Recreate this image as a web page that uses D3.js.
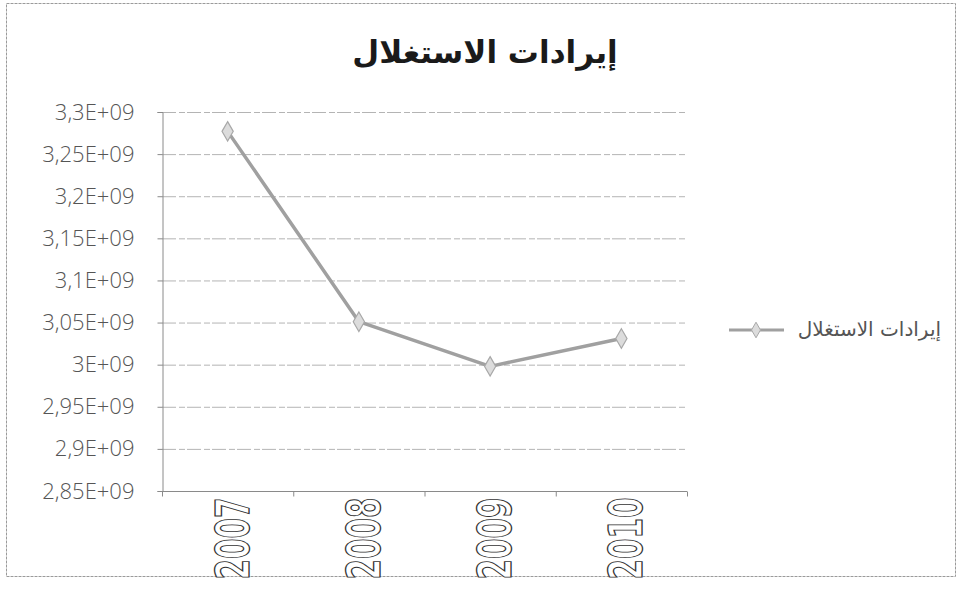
<!DOCTYPE html>
<html>
<head>
<meta charset="utf-8">
<script src="https://cdn.jsdelivr.net/npm/d3@7"></script>
<style>
  html, body { margin: 0; padding: 0; background: #fff; }
  svg { display: block; }
</style>
</head>
<body>
<svg id="chart" width="957" height="590"></svg>
<script>
// Operating revenues by year
const years = ["2007", "2008", "2009", "2010"];
const revenues = [3.277e9, 3.051e9, 2.998e9, 3.031e9];
const yTicks = [2.85e9, 2.9e9, 2.95e9, 3.0e9, 3.05e9, 3.1e9, 3.15e9, 3.2e9, 3.25e9, 3.3e9];
const yTickLabels = ["2,85E+09", "2,9E+09", "2,95E+09", "3E+09", "3,05E+09", "3,1E+09", "3,15E+09", "3,2E+09", "3,25E+09", "3,3E+09"];
const title = "إيرادات الاستغلال";
const seriesName = "إيرادات الاستغلال";

const svg = d3.select("#chart");
const W = 957, H = 590;
const plot = { left: 162, right: 687, top: 112, bottom: 491 };

// outer frame
svg.append("rect")
  .attr("x", 6.5).attr("y", 3.5).attr("width", W - 8).attr("height", 573)
  .attr("fill", "none").attr("stroke", "#9a9a9a").attr("stroke-width", 1)
  .attr("stroke-dasharray", "3,1");

const x = d3.scaleBand().domain(years).range([plot.left, plot.right]);
const y = d3.scaleLinear().domain([2.85e9, 3.3e9]).range([plot.bottom, plot.top]);

// gridlines
svg.append("g").selectAll("line").data(yTicks.slice(1)).join("line")
  .attr("x1", plot.left).attr("x2", plot.right)
  .attr("y1", d => y(d) + 0.5).attr("y2", d => y(d) + 0.5)
  .attr("stroke", "#b4b4b4").attr("stroke-width", 1)
  .attr("stroke-dasharray", "14,3,6,2");

// y axis
const yAxis = d3.axisLeft(y).tickValues(yTicks)
  .tickFormat((d, i) => yTickLabels[i]).tickSize(5).tickPadding(23);
const gy = svg.append("g").attr("transform", `translate(${plot.left + 0.5},0)`).call(yAxis);
gy.select(".domain").attr("stroke", "#8a8a8a");
gy.selectAll(".tick line").attr("stroke", "#8a8a8a");
gy.selectAll(".tick text")
  .attr("font-family", "'Open Sans', 'DejaVu Sans', sans-serif")
  .attr("font-size", 22).attr("font-weight", 300).attr("fill", "#555");

// x axis
const gx = svg.append("g").attr("transform", `translate(0,${plot.bottom + 0.5})`);
gx.append("line").attr("x1", plot.left).attr("x2", plot.right)
  .attr("stroke", "#8a8a8a");
const boundaries = years.map(d => x(d)).concat([x.range()[1]]);
gx.selectAll(".xt").data(boundaries).join("line").attr("class", "xt")
  .attr("x1", d => d + 0.5).attr("x2", d => d + 0.5).attr("y1", 0).attr("y2", 5)
  .attr("stroke", "#8a8a8a");
// outlined, rotated year labels
gx.selectAll("text").data(years).join("text")
  .attr("transform", d => `translate(${x(d) + x.bandwidth() / 2 + 21},${6}) rotate(-90)`)
  .attr("text-anchor", "end")
  .attr("font-family", "'DejaVu Sans', sans-serif")
  .attr("font-size", 46).attr("font-weight", "bold")
  .attr("textLength", 82).attr("lengthAdjust", "spacingAndGlyphs")
  .attr("fill", "#fff").attr("stroke", "#333").attr("stroke-width", 1.3)
  .text(d => d);

// series line
const cx = d => x(d) + x.bandwidth() / 2;
const line = d3.line().x((d, i) => cx(years[i])).y(d => y(d));
svg.append("path").datum(revenues)
  .attr("d", line).attr("fill", "none")
  .attr("stroke", "#a0a0a0").attr("stroke-width", 3.5).attr("stroke-linejoin", "round");

const diamond = d3.symbol().type(d3.symbolDiamond).size(110);
svg.append("g").selectAll("path").data(revenues).join("path")
  .attr("transform", (d, i) => `translate(${cx(years[i])},${y(d)})`)
  .attr("d", diamond)
  .attr("fill", "#dcdcdc").attr("stroke", "#a8a8a8").attr("stroke-width", 1.2);

// title
svg.append("text")
  .attr("x", 485).attr("y", 63).attr("text-anchor", "middle")
  .attr("font-family", "'DejaVu Sans', sans-serif")
  .attr("font-size", 31).attr("font-weight", "bold").attr("fill", "#1a1a1a")
  .attr("direction", "rtl")
  .text(title);

// legend
const lg = svg.append("g").attr("transform", "translate(0,330)");
lg.append("line").attr("x1", 729).attr("x2", 784).attr("stroke", "#a0a0a0").attr("stroke-width", 3);
lg.append("path").attr("transform", "translate(756,0)").attr("d", d3.symbol().type(d3.symbolDiamond).size(70))
  .attr("fill", "#dcdcdc").attr("stroke", "#a8a8a8");
lg.append("text")
  .attr("x", 941).attr("y", 6).attr("text-anchor", "start")
  .attr("direction", "rtl")
  .attr("font-family", "'DejaVu Sans', sans-serif")
  .attr("font-size", 20).attr("fill", "#555")
  .text(seriesName);
</script>
</body>
</html>
